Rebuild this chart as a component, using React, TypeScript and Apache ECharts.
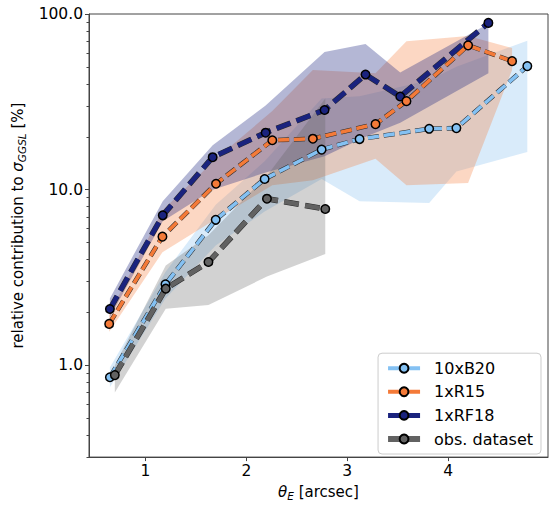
import React, { useEffect, useRef } from "react";
import * as echarts from "echarts";

// ---- data ----
const b20X = [0.647, 1.198, 1.696, 2.181, 2.746, 3.122, 3.812, 4.082, 4.785];
const b20Y = [0.855, 2.89, 6.73, 11.5, 16.9, 19.4, 22.2, 22.4, 50.5];
const b20Lo = [0.75, 2.4, 4.8, 7.5, 11.5, 8.6, 8.4, 12.7, 16.4];
const b20Hi = [0.97, 3.4, 8.2, 14.5, 33, 34, 42, 50, 70.5];

const r15X = [0.64, 1.168, 1.699, 2.257, 2.659, 3.28, 3.587, 4.198, 4.634];
const r15Y = [1.72, 5.4, 10.8, 19.1, 19.5, 23.6, 31.9, 66.3, 53.9];
const r15Lo = [1.55, 4.4, 6.8, 10.6, 11.3, 15.0, 10.6, 10.9, 48];
const r15Hi = [1.95, 7.6, 15, 28, 48, 46, 70, 75, 64];

const rf18X = [0.647, 1.171, 1.666, 2.191, 2.775, 3.181, 3.525, 4.399];
const rf18Y = [2.09, 7.14, 15.3, 21.1, 28.4, 45.2, 33.9, 89.0];
const rf18Lo = [1.88, 6.6, 10.0, 12.5, 15.5, 20, 24, 46];
const rf18Hi = [2.4, 8.6, 17.9, 30.1, 60.7, 67.4, 46.4, 88];

const obsX = [0.696, 1.201, 1.624, 2.204, 2.782];
const obsY = [0.879, 2.73, 3.87, 8.88, 7.76];
const obsLo = [0.7, 2.1, 2.2, 3.2, 4.3];
const obsHi = [1.0, 3.7, 5.5, 12, 33];

const seriesNames = ["10xB20", "1xR15", "1xRF18", "obs. dataset"];
const xTicks = [1, 2, 3, 4];
const yMajor = [1, 10, 100];
const yMinor = [
  0.3, 0.4, 0.5, 0.6, 0.7, 0.8, 0.9,
  2, 3, 4, 5, 6, 7, 8, 9,
  20, 30, 40, 50, 60, 70, 80, 90,
];

const C_B20 = "#84c1f3";
const C_R15 = "#f47a38";
const C_RF18 = "#1a237e";
const C_OBS = "#626262";

function band(xs: number[], lo: number[], hi: number[], fill: string) {
  return {
    type: "custom",
    silent: true,
    z: 1,
    clip: true,
    data: [[xs[0], lo[0]]],
    renderItem: (_p: any, api: any) => {
      const pts: number[][] = [];
      for (let i = 0; i < xs.length; i++) pts.push(api.coord([xs[i], hi[i]]));
      for (let i = xs.length - 1; i >= 0; i--) pts.push(api.coord([xs[i], lo[i]]));
      return { type: "polygon", shape: { points: pts }, style: { fill } };
    },
  };
}

function line(name: string, xs: number[], ys: number[], color: string, width: number, dash: number[]) {
  const data = xs.map((x, i) => [x, ys[i]]);
  return [
    {
      type: "line",
      name: name + "_edge",
      data,
      symbol: "none",
      silent: true,
      z: 3,
      lineStyle: { color: "#2a2a2a", width: width + 1.0, type: dash },
    },
    {
      type: "line",
      name,
      data,
      symbol: "circle",
      symbolSize: 8.5,
      z: 3,
      lineStyle: { color, width, type: dash },
      itemStyle: { color, borderColor: "#000", borderWidth: 1.5 },
    },
  ];
}

export default function App() {
  const ref = useRef<HTMLDivElement>(null);
  useEffect(() => {
    const chart = echarts.init(ref.current!, undefined, { renderer: "svg" });
    const dashS = [11.1, 4.8];
    const dashL = [14.8, 6.4];
    const rich = {
      n0: { fontSize: 15, fontFamily: "DejaVu Sans", padding: [0, 0, 0, 20] },
      n: { fontSize: 15, fontFamily: "DejaVu Sans" },
      i: { fontSize: 15, fontStyle: "italic", fontFamily: "DejaVu Sans" },
      s: { fontSize: 10.5, fontStyle: "italic", fontFamily: "DejaVu Sans", padding: [8, 0, 0, 0] },
    };
    const option: any = {
      animation: false,
      textStyle: { fontFamily: "DejaVu Sans", color: "#000" },
      grid: {
        left: 89,
        right: 5,
        top: 14,
        bottom: 44,
        show: true,
        borderColor: "#444",
        borderWidth: 1,
        backgroundColor: "transparent",
      },
      legend: {
        data: [
          { name: seriesNames[0], lineStyle: { width: 4, type: "solid" } },
          { name: seriesNames[1], lineStyle: { width: 4, type: "solid" } },
          { name: seriesNames[2], lineStyle: { width: 5, type: "solid" } },
          { name: seriesNames[3], lineStyle: { width: 6, type: "solid" } },
        ],
        orient: "vertical",
        right: 12,
        bottom: 52,
        itemWidth: 32,
        itemHeight: 11,
        itemGap: 7.6,
        padding: [7, 8, 7, 7],
        backgroundColor: "rgba(255,255,255,0.8)",
        borderColor: "#ccc",
        borderWidth: 1,
        borderRadius: 4,
        lineStyle: { type: "solid" },
        textStyle: { fontSize: 16, color: "#000", padding: [0, 0, 0, 9] },
      },
      xAxis: {
        type: "value",
        min: 0.44,
        max: 4.99,
        nameLocation: "middle",
        nameGap: 22,
        name: "{i|θ}{s|E}{n| [arcsec]}",
        nameTextStyle: { rich },
        axisLine: { show: true, lineStyle: { color: "#444", width: 1 } },
        axisTick: { show: true, length: 4, customValues: xTicks, lineStyle: { color: "#444" } },
        axisLabel: { customValues: xTicks, fontSize: 15.5, margin: 6, color: "#000" },
        splitLine: { show: false },
      },
      yAxis: [
        {
          type: "log",
          logBase: 10,
          min: 0.3,
          max: 100,
          nameLocation: "middle",
          nameGap: 47,
          name: "{n0|relative contribution to }{i|σ}{s|GGSL}{n| [%]}",
          nameTextStyle: { rich },
          axisLine: { show: true, lineStyle: { color: "#444", width: 1 } },
          axisTick: { show: true, length: 4, customValues: yMajor, lineStyle: { color: "#444" } },
          axisLabel: {
            customValues: yMajor,
            fontSize: 15.5,
            margin: 6,
            color: "#000",
            formatter: (v: number) => Number(v).toFixed(1),
          },
          splitLine: { show: false },
        },
        {
          type: "log",
          logBase: 10,
          min: 0.3,
          max: 100,
          position: "left",
          axisLine: { show: false },
          axisTick: { show: true, length: 2.5, customValues: yMinor, lineStyle: { color: "#444" } },
          axisLabel: { show: false },
          splitLine: { show: false },
        },
      ],
      series: [
        band(b20X, b20Lo, b20Hi, "rgba(128,189,240,0.3)"),
        band(r15X, r15Lo, r15Hi, "rgba(244,122,56,0.3)"),
        band(rf18X, rf18Lo, rf18Hi, "rgba(26,35,126,0.33)"),
        band(obsX, obsLo, obsHi, "rgba(95,95,95,0.28)"),
        ...line(seriesNames[0], b20X, b20Y, C_B20, 3.6, dashS),
        ...line(seriesNames[2], rf18X, rf18Y, C_RF18, 4.6, dashL),
        ...line(seriesNames[1], r15X, r15Y, C_R15, 3.6, dashS),
        ...line(seriesNames[3], obsX, obsY, C_OBS, 4.6, dashL),
      ],
    };
    chart.setOption(option);
    return () => chart.dispose();
  }, []);
  return (
    <div
      ref={ref}
      style={{ position: "fixed", left: 0, top: 0, width: 553, height: 506, background: "#fff" }}
    />
  );
}
